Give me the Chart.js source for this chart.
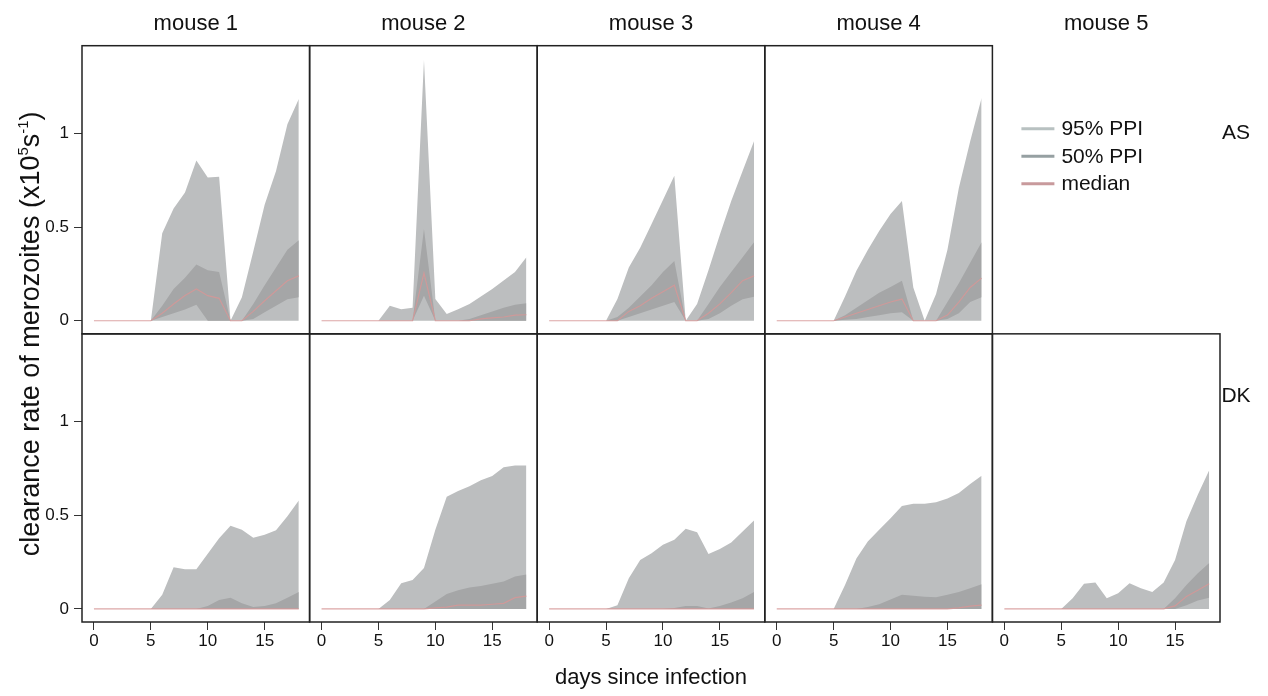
<!DOCTYPE html>
<html>
<head>
<meta charset="utf-8">
<script src="https://cdn.jsdelivr.net/npm/chart.js@4.4.1/dist/chart.umd.min.js"></script>
<style>
  html, body { margin: 0; background: #fff; }
  #wrap { width: 1268px; height: 696px; position: relative; }
</style>
</head>
<body>
<div id="wrap"><canvas id="chart" width="1268" height="696"></canvas></div>
<script>
// ----- DATA -----
const days = [0, 1, 2, 3, 4, 5, 6, 7, 8, 9, 10, 11, 12, 13, 14, 15, 16, 17, 18];
const mice = ['mouse 1', 'mouse 2', 'mouse 3', 'mouse 4', 'mouse 5'];
const strains = ['AS', 'DK'];
const xTicks = [0, 5, 10, 15];
const yTicks = [0, 0.5, 1];
const yTickLabels = ['0', '0.5', '1'];
const legendLabels = ['95% PPI', '50% PPI', 'median'];

const ZERO_LINE = [0, 0, 0, 0, 0, 0, 0, 0, 0, 0, 0, 0, 0, 0, 0, 0, 0, 0, 0];

// AS
const AS1_HI95 = [0, 0, 0, 0, 0, 0, 0.467, 0.60, 0.686, 0.856, 0.766, 0.77, 0, 0.125, 0.37, 0.62, 0.80, 1.05, 1.185];
const AS1_HI50 = [0, 0, 0, 0, 0, 0, 0.08, 0.17, 0.23, 0.30, 0.27, 0.26, 0, 0, 0.09, 0.19, 0.285, 0.38, 0.43];
const AS1_LO50 = [0, 0, 0, 0, 0, 0, 0.02, 0.04, 0.06, 0.086, 0, 0, 0, 0, 0.01, 0.045, 0.08, 0.115, 0.125];
const AS1_MED  = [0, 0, 0, 0, 0, 0, 0.04, 0.09, 0.135, 0.17, 0.134, 0.12, 0, 0, 0.05, 0.107, 0.16, 0.214, 0.24];

const AS2_HI95 = [0, 0, 0, 0, 0, 0, 0.08, 0.062, 0.07, 1.394, 0.116, 0.036, 0.062, 0.09, 0.13, 0.17, 0.215, 0.26, 0.34];
const AS2_HI50 = [0, 0, 0, 0, 0, 0, 0, 0, 0, 0.49, 0, 0, 0, 0.01, 0.03, 0.05, 0.07, 0.085, 0.093];
const AS2_LO50 = [0, 0, 0, 0, 0, 0, 0, 0, 0, 0.134, 0, 0, 0, 0, 0, 0, 0, 0, 0];
const AS2_MED  = [0, 0, 0, 0, 0, 0, 0, 0, 0, 0.255, 0, 0, 0, 0, 0.01, 0.015, 0.02, 0.03, 0.032];

const AS3_HI95 = [0, 0, 0, 0, 0, 0, 0.116, 0.285, 0.39, 0.517, 0.645, 0.775, 0, 0.09, 0.27, 0.46, 0.64, 0.80, 0.96];
const AS3_HI50 = [0, 0, 0, 0, 0, 0, 0.02, 0.07, 0.13, 0.19, 0.26, 0.32, 0, 0, 0.09, 0.18, 0.26, 0.34, 0.42];
const AS3_LO50 = [0, 0, 0, 0, 0, 0, 0, 0.02, 0.04, 0.06, 0.08, 0.10, 0, 0, 0.01, 0.04, 0.08, 0.115, 0.128];
const AS3_MED  = [0, 0, 0, 0, 0, 0, 0, 0.05, 0.08, 0.12, 0.155, 0.19, 0, 0, 0.04, 0.09, 0.15, 0.214, 0.24];

const AS4_HI95 = [0, 0, 0, 0, 0, 0, 0.13, 0.267, 0.378, 0.48, 0.57, 0.64, 0.178, 0, 0.143, 0.38, 0.71, 0.96, 1.19];
const AS4_HI50 = [0, 0, 0, 0, 0, 0, 0.03, 0.07, 0.11, 0.15, 0.18, 0.214, 0, 0, 0, 0.10, 0.20, 0.31, 0.42];
const AS4_LO50 = [0, 0, 0, 0, 0, 0, 0.005, 0.01, 0.02, 0.03, 0.04, 0.045, 0, 0, 0, 0.01, 0.04, 0.10, 0.125];
const AS4_MED  = [0, 0, 0, 0, 0, 0, 0.02, 0.04, 0.06, 0.08, 0.10, 0.116, 0, 0, 0, 0.03, 0.10, 0.178, 0.228];

// DK
const DK1_HI95 = [0, 0, 0, 0, 0, 0, 0.075, 0.223, 0.212, 0.212, 0.295, 0.378, 0.445, 0.423, 0.38, 0.396, 0.42, 0.495, 0.579];
const DK1_HI50 = [0, 0, 0, 0, 0, 0, 0, 0, 0, 0, 0.016, 0.048, 0.06, 0.03, 0.01, 0.016, 0.03, 0.06, 0.09];

const DK2_HI95 = [0, 0, 0, 0, 0, 0, 0.048, 0.137, 0.155, 0.218, 0.423, 0.60, 0.63, 0.655, 0.687, 0.71, 0.757, 0.766, 0.766];
const DK2_HI50 = [0, 0, 0, 0, 0, 0, 0, 0, 0, 0, 0.04, 0.079, 0.10, 0.114, 0.123, 0.134, 0.146, 0.173, 0.184];
const DK2_MED  = [0, 0, 0, 0, 0, 0, 0, 0, 0, 0, 0.005, 0.01, 0.02, 0.02, 0.02, 0.025, 0.03, 0.06, 0.068];

const DK3_HI95 = [0, 0, 0, 0, 0, 0, 0.02, 0.164, 0.262, 0.298, 0.343, 0.37, 0.428, 0.41, 0.293, 0.32, 0.355, 0.414, 0.473];
const DK3_HI50 = [0, 0, 0, 0, 0, 0, 0, 0, 0, 0, 0, 0.005, 0.016, 0.016, 0.002, 0.016, 0.034, 0.057, 0.09];

const DK4_HI95 = [0, 0, 0, 0, 0, 0, 0.128, 0.27, 0.36, 0.423, 0.485, 0.55, 0.562, 0.562, 0.57, 0.59, 0.62, 0.668, 0.712];
const DK4_HI50 = [0, 0, 0, 0, 0, 0, 0, 0, 0.01, 0.025, 0.05, 0.075, 0.07, 0.065, 0.062, 0.075, 0.09, 0.11, 0.132];
const DK4_MED  = [0, 0, 0, 0, 0, 0, 0, 0, 0, 0, 0, 0, 0, 0, 0, 0, 0.005, 0.015, 0.02];

const DK5_HI95 = [0, 0, 0, 0, 0, 0, 0.057, 0.134, 0.141, 0.057, 0.084, 0.137, 0.11, 0.09, 0.141, 0.262, 0.468, 0.61, 0.741];
const DK5_HI50 = [0, 0, 0, 0, 0, 0, 0, 0, 0, 0, 0, 0, 0, 0, 0, 0.057, 0.128, 0.19, 0.245];
const DK5_LO50 = [0, 0, 0, 0, 0, 0, 0, 0, 0, 0, 0, 0, 0, 0, 0, 0, 0.02, 0.045, 0.06];
const DK5_MED  = [0, 0, 0, 0, 0, 0, 0, 0, 0, 0, 0, 0, 0, 0, 0, 0.016, 0.066, 0.10, 0.134];

// panel table: row (strain index), col (mouse index)
const panels = [
  { row: 0, col: 0, hi95: AS1_HI95, hi50: AS1_HI50, lo50: AS1_LO50, med: AS1_MED },
  { row: 0, col: 1, hi95: AS2_HI95, hi50: AS2_HI50, lo50: AS2_LO50, med: AS2_MED },
  { row: 0, col: 2, hi95: AS3_HI95, hi50: AS3_HI50, lo50: AS3_LO50, med: AS3_MED },
  { row: 0, col: 3, hi95: AS4_HI95, hi50: AS4_HI50, lo50: AS4_LO50, med: AS4_MED },
  { row: 1, col: 0, hi95: DK1_HI95, hi50: DK1_HI50, lo50: ZERO_LINE, med: ZERO_LINE },
  { row: 1, col: 1, hi95: DK2_HI95, hi50: DK2_HI50, lo50: ZERO_LINE, med: DK2_MED },
  { row: 1, col: 2, hi95: DK3_HI95, hi50: DK3_HI50, lo50: ZERO_LINE, med: ZERO_LINE },
  { row: 1, col: 3, hi95: DK4_HI95, hi50: DK4_HI50, lo50: ZERO_LINE, med: DK4_MED },
  { row: 1, col: 4, hi95: DK5_HI95, hi50: DK5_HI50, lo50: DK5_LO50, med: DK5_MED }
];

// ----- STYLE -----
const FONT = '"Liberation Sans", Arial, Helvetica, sans-serif';
const TEXT = '#111';
const LIGHT = 'rgb(188,190,191)';
const DARK = 'rgb(165,166,167)';
const MEDIAN = 'rgba(214,150,150,0.85)';
const LEGEND_COLORS = ['rgb(184,193,193)', 'rgb(150,160,162)', 'rgb(200,154,156)'];

Chart.defaults.font.family = FONT;
Chart.defaults.color = TEXT;

function pts(values) {
  return values.map((v, i) => ({ x: days[i], y: v }));
}

// ----- DATASETS -----
const datasets = [];
panels.forEach(p => {
  const ids = { xAxisID: 'x' + p.col, yAxisID: 'y' + p.row };
  const base = { ...ids, pointRadius: 0, pointHitRadius: 0, tension: 0, borderWidth: 0, borderColor: 'transparent' };
  datasets.push({ ...base, data: pts(ZERO_LINE), fill: false, order: 3 });
  datasets.push({ ...base, data: pts(p.hi95), fill: '-1', backgroundColor: LIGHT, order: 3 });
  datasets.push({ ...base, data: pts(p.lo50), fill: false, order: 2 });
  datasets.push({ ...base, data: pts(p.hi50), fill: '-1', backgroundColor: DARK, order: 2 });
  datasets.push({ ...base, data: pts(p.med), fill: false, borderWidth: 1.2, borderColor: MEDIAN, order: 1 });
});

// ----- SCALES -----
const scales = {};
mice.forEach((m, i) => {
  scales['x' + i] = {
    type: 'linear', position: 'bottom', stack: 'cols', stackWeight: 1, weight: i,
    min: -1.05, max: 18.95,
    afterBuildTicks: ax => { ax.ticks = xTicks.map(v => ({ value: v })); },
    afterFit: ax => { ax.height = 74; },
    grid: { drawOnChartArea: false, drawTicks: true, tickLength: 8, color: '#333', lineWidth: 1 },
    border: { display: false },
    ticks: { font: { size: 17 }, color: TEXT, padding: 1, maxRotation: 0, autoSkip: false },
    title: {
      display: i === 2, text: 'days since infection', color: TEXT,
      font: { size: 22 }, padding: { top: 0, bottom: 5 }
    }
  };
});
strains.forEach((s, j) => {
  scales['y' + j] = {
    type: 'linear', position: 'left', stack: 'rows', stackWeight: 1, weight: strains.length - j,
    min: -0.07, max: 1.47,
    afterBuildTicks: ax => { ax.ticks = yTicks.map(v => ({ value: v })); },
    afterFit: ax => { ax.width = 82; },
    grid: { drawOnChartArea: false, drawTicks: true, tickLength: 8, color: '#333', lineWidth: 1 },
    border: { display: false },
    ticks: {
      font: { size: 17 }, color: TEXT, padding: 5, autoSkip: false,
      callback: v => yTickLabels[yTicks.indexOf(v)]
    }
  };
});

// ----- PLUGINS -----
const framesAndText = {
  id: 'framesAndText',
  afterDatasetsDraw(chart) {
    const { ctx, scales: sc } = chart;
    ctx.save();
    ctx.strokeStyle = '#222';
    ctx.lineWidth = 1.5;
    strains.forEach((s, r) => {
      mice.forEach((m, c) => {
        if (r === 0 && c === 4) return; // legend cell, no frame
        const xs = sc['x' + c], ys = sc['y' + r];
        ctx.strokeRect(xs.left, ys.top, xs.right - xs.left, ys.bottom - ys.top);
      });
    });
    ctx.restore();
  },
  afterDraw(chart) {
    const { ctx, scales: sc, chartArea } = chart;
    ctx.save();
    ctx.fillStyle = TEXT;
    ctx.textBaseline = 'middle';

    // column titles
    ctx.textAlign = 'center';
    ctx.font = '22px ' + FONT;
    mice.forEach((m, c) => {
      const xs = sc['x' + c];
      ctx.fillText(m, (xs.left + xs.right) / 2, chartArea.top - 22);
    });

    // strip labels on the right
    ctx.font = '21px ' + FONT;
    ctx.fillText(strains[0], chartArea.right + 16, sc.y0.top + 88);
    ctx.fillText(strains[1], chartArea.right + 16, sc.y1.top + 62);

    // legend in the empty AS / mouse 5 cell
    const lx = sc.x4.left + 29;
    const ly = sc.y0.top + 83;
    ctx.textAlign = 'left';
    ctx.font = '21px ' + FONT;
    legendLabels.forEach((lab, k) => {
      const y = ly + k * 27.5;
      ctx.strokeStyle = LEGEND_COLORS[k];
      ctx.lineWidth = 3;
      ctx.beginPath();
      ctx.moveTo(lx, y);
      ctx.lineTo(lx + 33, y);
      ctx.stroke();
      ctx.fillText(lab, lx + 40, y + 1);
    });

    // y axis title with superscripts
    const big = 27, small = 15, rise = 11;
    const parts = [
      ['clearance rate of merozoites (x10', big, 0],
      ['5', small, rise],
      ['s', big, 0],
      ['-1', small, rise],
      [')', big, 0]
    ];
    let total = 0;
    parts.forEach(p => { ctx.font = p[1] + 'px ' + FONT; total += ctx.measureText(p[0]).width; });
    ctx.translate(30, (chartArea.top + chartArea.bottom) / 2);
    ctx.rotate(-Math.PI / 2);
    ctx.textBaseline = 'alphabetic';
    let x = -total / 2;
    parts.forEach(p => {
      ctx.font = p[1] + 'px ' + FONT;
      ctx.fillText(p[0], x, 9 - p[2]);
      x += ctx.measureText(p[0]).width;
    });
    ctx.restore();
  }
};

new Chart(document.getElementById('chart'), {
  type: 'line',
  data: { datasets },
  options: {
    responsive: false,
    animation: false,
    devicePixelRatio: 1,
    layout: { padding: { top: 45.7, left: 0, right: 48, bottom: 0 } },
    plugins: { legend: { display: false }, tooltip: { enabled: false } },
    scales
  },
  plugins: [framesAndText]
});
</script>
</body>
</html>
